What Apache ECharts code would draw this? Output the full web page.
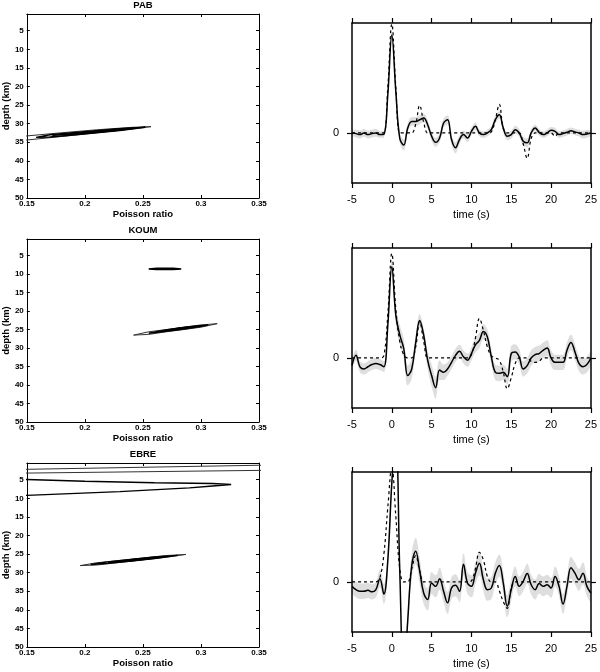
<!DOCTYPE html>
<html>
<head>
<meta charset="utf-8">
<script src="https://cdn.jsdelivr.net/npm/echarts@6/dist/echarts.min.js"></script>
<style>
  html, body { margin: 0; padding: 0; background: #fff; }
  #chart { width: 600px; height: 672px; }
</style>
</head>
<body>
<div id="chart"></div>
<script>
// time samples (s) shared by the receiver function panels
var time = [-5, -4.5, -4, -3.5, -3, -2.5, -2, -1.5, -1, -0.5, 0, 0.5, 1, 1.5, 2, 2.5, 3, 3.5, 4, 4.5,
  5, 5.5, 6, 6.5, 7, 7.5, 8, 8.5, 9, 9.5, 10, 10.5, 11, 11.5, 12, 12.5, 13, 13.5, 14, 14.5,
  15, 15.5, 16, 16.5, 17, 17.5, 18, 18.5, 19, 19.5, 20, 20.5, 21, 21.5, 22, 22.5, 23, 23.5, 24, 24.5, 25]

var stations = ['PAB', 'KOUM', 'EBRE']

// observed (solid), synthetic (dashed) and half-width of the grey band
var pabObs = [0, -0.006, -0.015, 0, -0.015, -0.006, 0, -0.015, -0.012, 0.35, 0.89, 0.38, -0.05, -0.11, 0.045, 0.105, 0.105, 0.12, 0.135, 0.075,
  -0.03, -0.085, -0.045, 0.09, 0.12, -0.06, -0.135, -0.06, -0.015, -0.045, 0.015, 0.06, 0, -0.015, 0, 0.03, 0.12, 0.165, 0.045, -0.03,
  -0.015, 0.03, 0, -0.075, -0.09, 0, 0.045, 0.006, -0.015, 0, 0.024, 0.015, -0.015, -0.006, 0.006, 0.02, 0.009, 0, -0.015, -0.009, 0]
var pabSyn = [0, 0, 0, 0, 0, 0, 0, 0, 0, 0.42, 0.99, 0.42, 0, 0, 0, 0, 0.08, 0.25, 0.1, 0,
  0, 0, 0, 0, 0, 0, 0, 0, 0, 0, 0, 0, 0, 0, 0, 0.01, 0.12, 0.26, 0.04, 0,
  0, 0, 0, -0.1, -0.23, -0.05, 0, 0, 0, 0, 0, -0.03, 0, 0, 0, 0, 0, 0, 0, 0, 0]
var pabSpread = [0.03, 0.035, 0.035, 0.035, 0.035, 0.035, 0.035, 0.03, 0.03, 0.03, 0.03, 0.03, 0.04, 0.05, 0.04, 0.04, 0.04, 0.04, 0.04, 0.04,
  0.04, 0.04, 0.04, 0.04, 0.04, 0.045, 0.05, 0.04, 0.035, 0.035, 0.035, 0.035, 0.03, 0.03, 0.03, 0.03, 0.035, 0.035, 0.035, 0.035,
  0.035, 0.035, 0.035, 0.04, 0.04, 0.035, 0.03, 0.03, 0.03, 0.03, 0.03, 0.03, 0.03, 0.03, 0.03, 0.03, 0.03, 0.03, 0.035, 0.035, 0.03]

var koumObs = [-0.067, 0.024, -0.08, -0.1, -0.08, -0.06, -0.05, -0.06, -0.08, 0.3, 0.83, 0.39, 0.21, 0.085, -0.16, -0.1, 0.14, 0.34, 0.21, -0.02,
  -0.16, -0.27, -0.11, -0.13, -0.1, -0.04, 0.024, 0.06, 0.01, -0.02, 0.04, 0.12, 0.16, 0.24, 0.19, 0.01, -0.13, -0.14, -0.13, -0.17,
  0.04, 0.055, 0.01, -0.1, -0.07, 0, 0.03, 0.04, 0.07, 0.09, 0, -0.04, -0.04, -0.04, 0.07, 0.14, 0.055, -0.05, -0.08, -0.06, 0]
var koumSyn = [0, 0, 0, 0, 0, 0, 0, 0, 0.02, 0.4, 0.95, 0.45, 0.15, 0.03, 0, 0, 0.1, 0.33, 0.15, 0,
  0, 0, 0, 0, 0, 0, 0, 0, 0, 0, 0.03, 0.18, 0.36, 0.25, 0.1, 0.02, 0, -0.02, -0.13, -0.28,
  -0.18, -0.05, 0, 0, 0, -0.03, -0.04, -0.03, 0, 0, 0, 0, 0, 0, 0, 0, 0, 0, 0, 0, 0]
var koumSpread = [0.05, 0.05, 0.05, 0.05, 0.05, 0.05, 0.05, 0.05, 0.05, 0.06, 0.06, 0.08, 0.09, 0.09, 0.09, 0.09, 0.06, 0.06, 0.06, 0.08,
  0.1, 0.1, 0.09, 0.07, 0.06, 0.06, 0.06, 0.06, 0.06, 0.06, 0.06, 0.07, 0.07, 0.07, 0.07, 0.07, 0.07, 0.07, 0.07, 0.07,
  0.07, 0.07, 0.07, 0.07, 0.07, 0.07, 0.07, 0.07, 0.07, 0.07, 0.07, 0.07, 0.07, 0.07, 0.07, 0.07, 0.07, 0.07, 0.07, 0.07, 0.07]

var ebreObs = [-0.04, -0.07, -0.085, -0.085, -0.076, -0.09, -0.07, 0.03, -0.11, 0.2, 0.9, 1.35, 0.1, -0.9, -0.35, 0.15, 0.28, 0.1, -0.1, -0.16,
  -0.01, -0.04, 0.03, -0.085, -0.19, -0.055, -0.03, -0.085, 0.16, -0.01, -0.04, 0.08, 0.17, 0.02, -0.07, -0.055, 0.08, 0.15, -0.01, -0.22,
  -0.07, 0.05, -0.04, 0.006, 0.076, -0.025, -0.07, -0.015, -0.04, -0.025, -0.055, 0.05, -0.04, -0.2, -0.04, 0.13, 0.08, 0.02, 0.08, -0.04, -0.1]
var ebreSyn = [0, 0, 0, 0, 0, 0, 0, 0.04, 0.25, 0.68, 1.05, 0.6, 0.12, 0, 0, 0.12, 0.24, 0.1, 0, 0,
  0, 0, 0, 0, 0, 0, 0, 0, 0, 0, 0.01, 0.12, 0.27, 0.2, 0.05, 0, 0, -0.08, -0.18, -0.24,
  -0.05, 0, 0, 0, 0, 0, 0, 0, 0, 0, 0, 0, 0, 0, 0, 0, 0, 0, 0, 0, 0]
var ebreSpread = [0.07, 0.07, 0.07, 0.07, 0.07, 0.07, 0.07, 0.08, 0.09, 0.1, 0.1, 0.1, 0.1, 0.1, 0.1, 0.12, 0.12, 0.12, 0.1, 0.1,
  0.1, 0.1, 0.1, 0.1, 0.1, 0.1, 0.1, 0.1, 0.1, 0.1, 0.1, 0.1, 0.11, 0.1, 0.1, 0.1, 0.1, 0.1, 0.1, 0.1,
  0.1, 0.09, 0.09, 0.09, 0.09, 0.09, 0.09, 0.09, 0.09, 0.09, 0.09, 0.09, 0.09, 0.09, 0.09, 0.1, 0.1, 0.1, 0.1, 0.09, 0.09]

// misfit contours: [Poisson ratio, depth km] outlines, outer -> inner
var pabContours = [
  [[0.14, 33.55], [0.15, 33.3], [0.18, 32.45], [0.21, 31.65], [0.24, 31.0], [0.257, 30.8], [0.24, 31.45], [0.21, 32.45], [0.18, 33.45], [0.15, 34.4], [0.14, 34.7]],
  [[0.158, 33.7], [0.17, 32.98], [0.19, 32.45], [0.21, 31.9], [0.23, 31.35], [0.252, 30.95], [0.23, 31.85], [0.21, 32.45], [0.19, 33.05], [0.17, 33.6], [0.158, 33.7]],
  [[0.172, 33.15], [0.19, 32.6], [0.21, 32.05], [0.23, 31.45], [0.243, 31.2], [0.23, 31.7], [0.21, 32.3], [0.19, 32.85], [0.172, 33.15]]
]
var koumContours = [
  [[0.255, 8.6], [0.262, 8.42], [0.276, 8.42], [0.283, 8.6], [0.276, 8.78], [0.262, 8.78], [0.255, 8.6]],
  [[0.242, 26.5], [0.255, 25.6], [0.27, 25.0], [0.285, 24.35], [0.3, 23.75], [0.314, 23.4], [0.3, 24.35], [0.285, 25.0], [0.27, 25.6], [0.255, 26.3], [0.242, 26.5]],
  [[0.255, 26.0], [0.27, 25.1], [0.285, 24.45], [0.298, 23.95], [0.306, 23.8], [0.298, 24.25], [0.285, 24.85], [0.27, 25.5], [0.255, 26.0]],
  [[0.268, 25.35], [0.281, 24.65], [0.294, 24.2], [0.281, 24.95], [0.268, 25.35]]
]
var ebreContours = [
  [[0.14, 2.25], [0.36, 1.05], [0.36, 2.45], [0.14, 3.25]],
  [[0.14, 5.0], [0.15, 4.95], [0.2, 5.4], [0.26, 5.8], [0.31, 6.0], [0.326, 6.3], [0.31, 6.7], [0.29, 7.2], [0.23, 8.2], [0.15, 9.2], [0.14, 9.3]],
  [[0.196, 28.1], [0.21, 27.35], [0.23, 26.7], [0.25, 26.05], [0.27, 25.4], [0.287, 25.1], [0.27, 25.85], [0.25, 26.55], [0.23, 27.25], [0.21, 27.95], [0.196, 28.1]],
  [[0.205, 27.8], [0.22, 27.1], [0.24, 26.45], [0.26, 25.8], [0.28, 25.35], [0.26, 26.2], [0.24, 26.85], [0.22, 27.5], [0.205, 27.8]],
  [[0.22, 27.3], [0.244, 26.4], [0.268, 25.75], [0.244, 26.7], [0.22, 27.3]]
]
// which contour of each station is drawn as the thin outer line
var outerIndex = [[0], [1], [0, 2]]

var contours = [pabContours, koumContours, ebreContours]
var traces = [
  { obs: pabObs, syn: pabSyn, spread: pabSpread },
  { obs: koumObs, syn: koumSyn, spread: koumSpread },
  { obs: ebreObs, syn: ebreSyn, spread: ebreSpread }
]

var depthTicks = [5, 10, 15, 20, 25, 30, 35, 40, 45, 50]

var FONT = 'Liberation Sans, Arial, Helvetica, sans-serif'
var leftTops = [14, 239, 463]
var leftHeights = [184, 183, 184]
var rightTops = [23, 248, 472]

var chart = echarts.init(document.getElementById('chart'))

var grids = []
var xAxes = []
var yAxes = []
var series = []
var titles = []
var black = { onZero: false, lineStyle: { color: '#000', width: 1 } }
var thick = { onZero: false, lineStyle: { color: '#000', width: 1.5 } }

function pairs (xs, ys) {
  return xs.map(function (x, i) { return [x, ys[i]] })
}

stations.forEach(function (name, k) {
  // --- left: contour panel ---
  var g = grids.length
  grids.push({ left: 26, top: leftTops[k], width: 233, height: leftHeights[k] })
  titles.push({
    text: name, left: 143, top: leftTops[k] - 14, textAlign: 'center', padding: 0,
    textStyle: { fontFamily: FONT, fontSize: 9.5, fontWeight: 'bold', color: '#000' }
  })
  var xb = xAxes.length
  xAxes.push({
    gridIndex: g, type: 'value', min: 0.15, max: 0.35, interval: 0.05, position: 'bottom',
    axisLine: black, axisTick: { inside: true, length: 3, lineStyle: { color: '#000' } },
    axisLabel: { color: '#000', fontFamily: FONT, fontSize: 8, fontWeight: 'bold', margin: 2 },
    splitLine: { show: false },
    name: 'Poisson ratio', nameLocation: 'middle', nameGap: 9,
    nameTextStyle: { color: '#000', fontFamily: FONT, fontSize: 9.5, fontWeight: 'bold' }
  })
  xAxes.push({
    gridIndex: g, type: 'value', min: 0.15, max: 0.35, interval: 0.05, position: 'top',
    axisLine: black, axisTick: { inside: true, length: 3, lineStyle: { color: '#000' } },
    axisLabel: { show: false }, splitLine: { show: false }
  })
  var yl = yAxes.length
  yAxes.push({
    gridIndex: g, type: 'value', min: 0.5, max: 50, inverse: true, position: 'left',
    axisLine: black,
    axisTick: { inside: true, length: 3, customValues: depthTicks, lineStyle: { color: '#000' } },
    axisLabel: { customValues: depthTicks, color: '#000', fontFamily: FONT, fontSize: 8, fontWeight: 'bold', margin: 3 },
    splitLine: { show: false },
    name: 'depth (km)', nameLocation: 'middle', nameGap: 13, nameRotate: 90,
    nameTextStyle: { color: '#000', fontFamily: FONT, fontSize: 9.5, fontWeight: 'bold' }
  })
  yAxes.push({
    gridIndex: g, type: 'value', min: 0.5, max: 50, inverse: true, position: 'right',
    axisLine: black,
    axisTick: { inside: true, length: 3, customValues: depthTicks, lineStyle: { color: '#000' } },
    axisLabel: { show: false }, splitLine: { show: false }
  })
  contours[k].forEach(function (c, j) {
    var outer = outerIndex[k].indexOf(j) >= 0
    series.push({
      type: 'line', xAxisIndex: xb, yAxisIndex: yl, data: c,
      showSymbol: false, symbol: 'none', silent: true, clip: true,
      lineStyle: { color: outer ? '#333' : '#000', width: outer ? 1 : 1.4 }
    })
  })

  // --- right: receiver function panel ---
  var g2 = grids.length
  grids.push({ left: 352, top: rightTops[k], width: 240, height: 160 })
  var xr = xAxes.length
  xAxes.push({
    gridIndex: g2, type: 'value', min: -5, max: 25, interval: 5, position: 'bottom', z: 10,
    axisLine: thick, axisTick: { inside: false, length: 5, lineStyle: { color: '#000', width: 1.2 } },
    axisLabel: { color: '#000', fontFamily: FONT, fontSize: 11, margin: 11 },
    splitLine: { show: false },
    name: 'time (s)', nameLocation: 'middle', nameGap: 26,
    nameTextStyle: { color: '#000', fontFamily: FONT, fontSize: 11 }
  })
  xAxes.push({
    gridIndex: g2, type: 'value', min: -5, max: 25, interval: 5, position: 'top', z: 10,
    axisLine: thick, axisTick: { inside: false, length: 5, lineStyle: { color: '#000', width: 1.2 } },
    axisLabel: { show: false }, splitLine: { show: false }
  })
  var yr = yAxes.length
  yAxes.push({
    gridIndex: g2, type: 'value', min: -0.455, max: 1, position: 'left', z: 10,
    axisLine: thick,
    axisTick: { inside: false, length: 5, customValues: [0], lineStyle: { color: '#000', width: 1.2 } },
    axisLabel: { customValues: [0], color: '#000', fontFamily: FONT, fontSize: 11, margin: 13 },
    splitLine: { show: false }
  })
  yAxes.push({
    gridIndex: g2, type: 'value', min: -0.455, max: 1, position: 'right', z: 10,
    axisLine: thick,
    axisTick: { inside: false, length: 5, customValues: [0], lineStyle: { color: '#000', width: 1.2 } },
    axisLabel: { show: false }, splitLine: { show: false }
  })
  var tr = traces[k]
  var upper = tr.obs.map(function (v, i) { return v + tr.spread[i] })
  var lower = tr.obs.map(function (v, i) { return v - tr.spread[i] })
  // grey down from the upper edge, then white down from the lower edge
  series.push({
    type: 'line', xAxisIndex: xr, yAxisIndex: yr, data: pairs(time, upper), z: 1,
    smooth: 0.4, showSymbol: false, symbol: 'none', silent: true,
    lineStyle: { width: 0, opacity: 0 }, areaStyle: { color: '#dedede', opacity: 1, origin: 'start' }
  })
  series.push({
    type: 'line', xAxisIndex: xr, yAxisIndex: yr, data: pairs(time, lower), z: 1,
    smooth: 0.4, showSymbol: false, symbol: 'none', silent: true,
    lineStyle: { width: 0, opacity: 0 }, areaStyle: { color: '#fff', opacity: 1, origin: 'start' }
  })
  series.push({
    type: 'line', xAxisIndex: xr, yAxisIndex: yr, data: pairs(time, tr.syn), z: 3,
    smooth: 0.4, showSymbol: false, symbol: 'none', silent: true,
    lineStyle: { color: '#000', width: 1.2, type: [3, 3] }
  })
  series.push({
    type: 'line', xAxisIndex: xr, yAxisIndex: yr, data: pairs(time, tr.obs), z: 4,
    smooth: 0.4, showSymbol: false, symbol: 'none', silent: true,
    lineStyle: { color: '#000', width: 1.5 }
  })
})

var option = {
  animation: false,
  backgroundColor: '#fff',
  title: titles,
  grid: grids,
  xAxis: xAxes,
  yAxis: yAxes,
  series: series
}

chart.setOption(option, true)
</script>
</body>
</html>
